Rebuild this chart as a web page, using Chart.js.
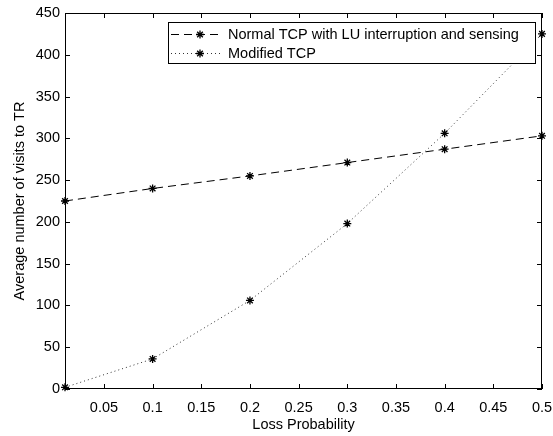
<!DOCTYPE html>
<html>
<head>
<meta charset="utf-8">
<script src="https://cdn.jsdelivr.net/npm/chart.js@4/dist/chart.umd.min.js"></script>
<style>
  html, body { margin: 0; padding: 0; background: #fff; }
  #wrap { width: 553px; height: 436px; }
</style>
</head>
<body>
<div id="wrap"><canvas id="chart" width="553" height="436"></canvas></div>
<script>
// data
const lossProb = [0.01, 0.1, 0.2, 0.3, 0.4, 0.5];
const normalTcp = [225, 240, 255, 271, 287, 303];
const modifiedTcp = [2, 36, 106, 198, 306, 425];
const xTicks = [0.05, 0.1, 0.15, 0.2, 0.25, 0.3, 0.35, 0.4, 0.45, 0.5];
const yTicks = [0, 50, 100, 150, 200, 250, 300, 350, 400, 450];
const seriesNames = ['Normal TCP with LU interruption and sensing', 'Modified TCP'];

const FONT = 'Liberation Sans, Arial, Helvetica, sans-serif';
const FSIZE = 14.5;

const toPoints = (ys) => lossProb.map((x, i) => ({ x: x, y: ys[i] }));

// matlab-ish box with inward ticks on all four sides
const framePlugin = {
    id: 'frame',
    afterDraw(chart) {
        const ctx = chart.ctx;
        const a = chart.chartArea;
        const xs = chart.scales.x, ys = chart.scales.y;
        const len = 5;
        ctx.save();
        ctx.strokeStyle = '#000';
        ctx.lineWidth = 1;
        ctx.strokeRect(a.left + 0.5, a.top + 0.5, a.right - a.left - 1, a.bottom - a.top - 1);
        ctx.beginPath();
        xTicks.forEach(v => {
            const px = Math.round(xs.getPixelForValue(v)) + 0.5;
            ctx.moveTo(px, a.bottom); ctx.lineTo(px, a.bottom - len);
            ctx.moveTo(px, a.top); ctx.lineTo(px, a.top + len);
        });
        yTicks.forEach(v => {
            const py = Math.round(ys.getPixelForValue(v)) + 0.5;
            ctx.moveTo(a.left, py); ctx.lineTo(a.left + len, py);
            ctx.moveTo(a.right, py); ctx.lineTo(a.right - len, py);
        });
        ctx.stroke();

        // legend box
        const bx = 168, by = 22, bw = a.right - 7 - bx, bh = 41;
        ctx.fillStyle = '#fff';
        ctx.fillRect(bx, by, bw, bh);
        ctx.strokeRect(bx + 0.5, by + 0.5, bw, bh);
        const rows = [
            { dash: [8, 5], y: by + 12.5, color: '#000' },
            { dash: [1, 3], y: by + 31.5, color: '#333' }
        ];
        rows.forEach((r, i) => {
            ctx.setLineDash(r.dash);
            ctx.strokeStyle = r.color;
            ctx.beginPath();
            ctx.moveTo(bx + 3, r.y); ctx.lineTo(bx + 53, r.y);
            ctx.stroke();
            ctx.setLineDash([]);
            ctx.strokeStyle = '#000';
            ctx.lineWidth = 1.3;
            drawStar(ctx, bx + 32, r.y, 4);
            ctx.lineWidth = 1;
            ctx.fillStyle = '#000';
            ctx.font = FSIZE + 'px ' + FONT;
            ctx.textBaseline = 'middle';
            ctx.textAlign = 'left';
            ctx.fillText(seriesNames[i], bx + 60, r.y);
        });
        ctx.restore();
    }
};

function drawStar(ctx, x, y, r) {
    const d = r * Math.SQRT1_2;
    ctx.beginPath();
    ctx.moveTo(x - r, y); ctx.lineTo(x + r, y);
    ctx.moveTo(x, y - r); ctx.lineTo(x, y + r);
    ctx.moveTo(x - d, y - d); ctx.lineTo(x + d, y + d);
    ctx.moveTo(x - d, y + d); ctx.lineTo(x + d, y - d);
    ctx.stroke();
}

new Chart(document.getElementById('chart'), {
    type: 'line',
    data: {
        datasets: [{
            label: seriesNames[0],
            data: toPoints(normalTcp),
            borderColor: '#000',
            borderWidth: 1,
            borderDash: [8, 5],
            pointStyle: 'star',
            pointRadius: 4,
            pointBorderColor: '#000',
            pointBorderWidth: 1.3,
            tension: 0,
            fill: false
        }, {
            label: seriesNames[1],
            data: toPoints(modifiedTcp),
            borderColor: '#333',
            borderWidth: 1,
            borderDash: [1, 3],
            pointStyle: 'star',
            pointRadius: 4,
            pointBorderColor: '#000',
            pointBorderWidth: 1.3,
            tension: 0,
            fill: false
        }]
    },
    options: {
        responsive: false,
        animation: false,
        devicePixelRatio: 1,
        clip: false,
        layout: { padding: { top: 13, right: 11, left: 0, bottom: 0 } },
        plugins: { legend: { display: false }, tooltip: { enabled: false } },
        scales: {
            x: {
                type: 'linear',
                min: 0.01,
                max: 0.5,
                afterBuildTicks: (s) => { s.ticks = xTicks.map(v => ({ value: v })); },
                afterFit: (s) => { s.height = 47; s.paddingLeft = 0; s.paddingRight = 0; },
                grid: { display: false, drawTicks: false },
                border: { display: false },
                ticks: {
                    color: '#000',
                    padding: 10,
                    maxRotation: 0,
                    autoSkip: false,
                    font: { family: FONT, size: FSIZE },
                    callback: (v) => String(Math.round(v * 100) / 100)
                },
                title: {
                    display: true,
                    text: 'Loss Probability',
                    color: '#000',
                    font: { family: FONT, size: FSIZE },
                    padding: { top: 0, bottom: 2 }
                }
            },
            y: {
                type: 'linear',
                min: 0,
                max: 450,
                afterBuildTicks: (s) => { s.ticks = yTicks.map(v => ({ value: v })); },
                afterFit: (s) => { s.width = 65; s.paddingTop = 0; s.paddingBottom = 0; },
                grid: { display: false, drawTicks: false },
                border: { display: false },
                ticks: {
                    color: '#000',
                    padding: 5,
                    font: { family: FONT, size: FSIZE }
                },
                title: {
                    display: true,
                    text: 'Average number of visits to TR',
                    color: '#000',
                    font: { family: FONT, size: FSIZE },
                    padding: { top: 11, bottom: 0 }
                }
            }
        }
    },
    plugins: [framePlugin]
});
</script>
</body>
</html>
